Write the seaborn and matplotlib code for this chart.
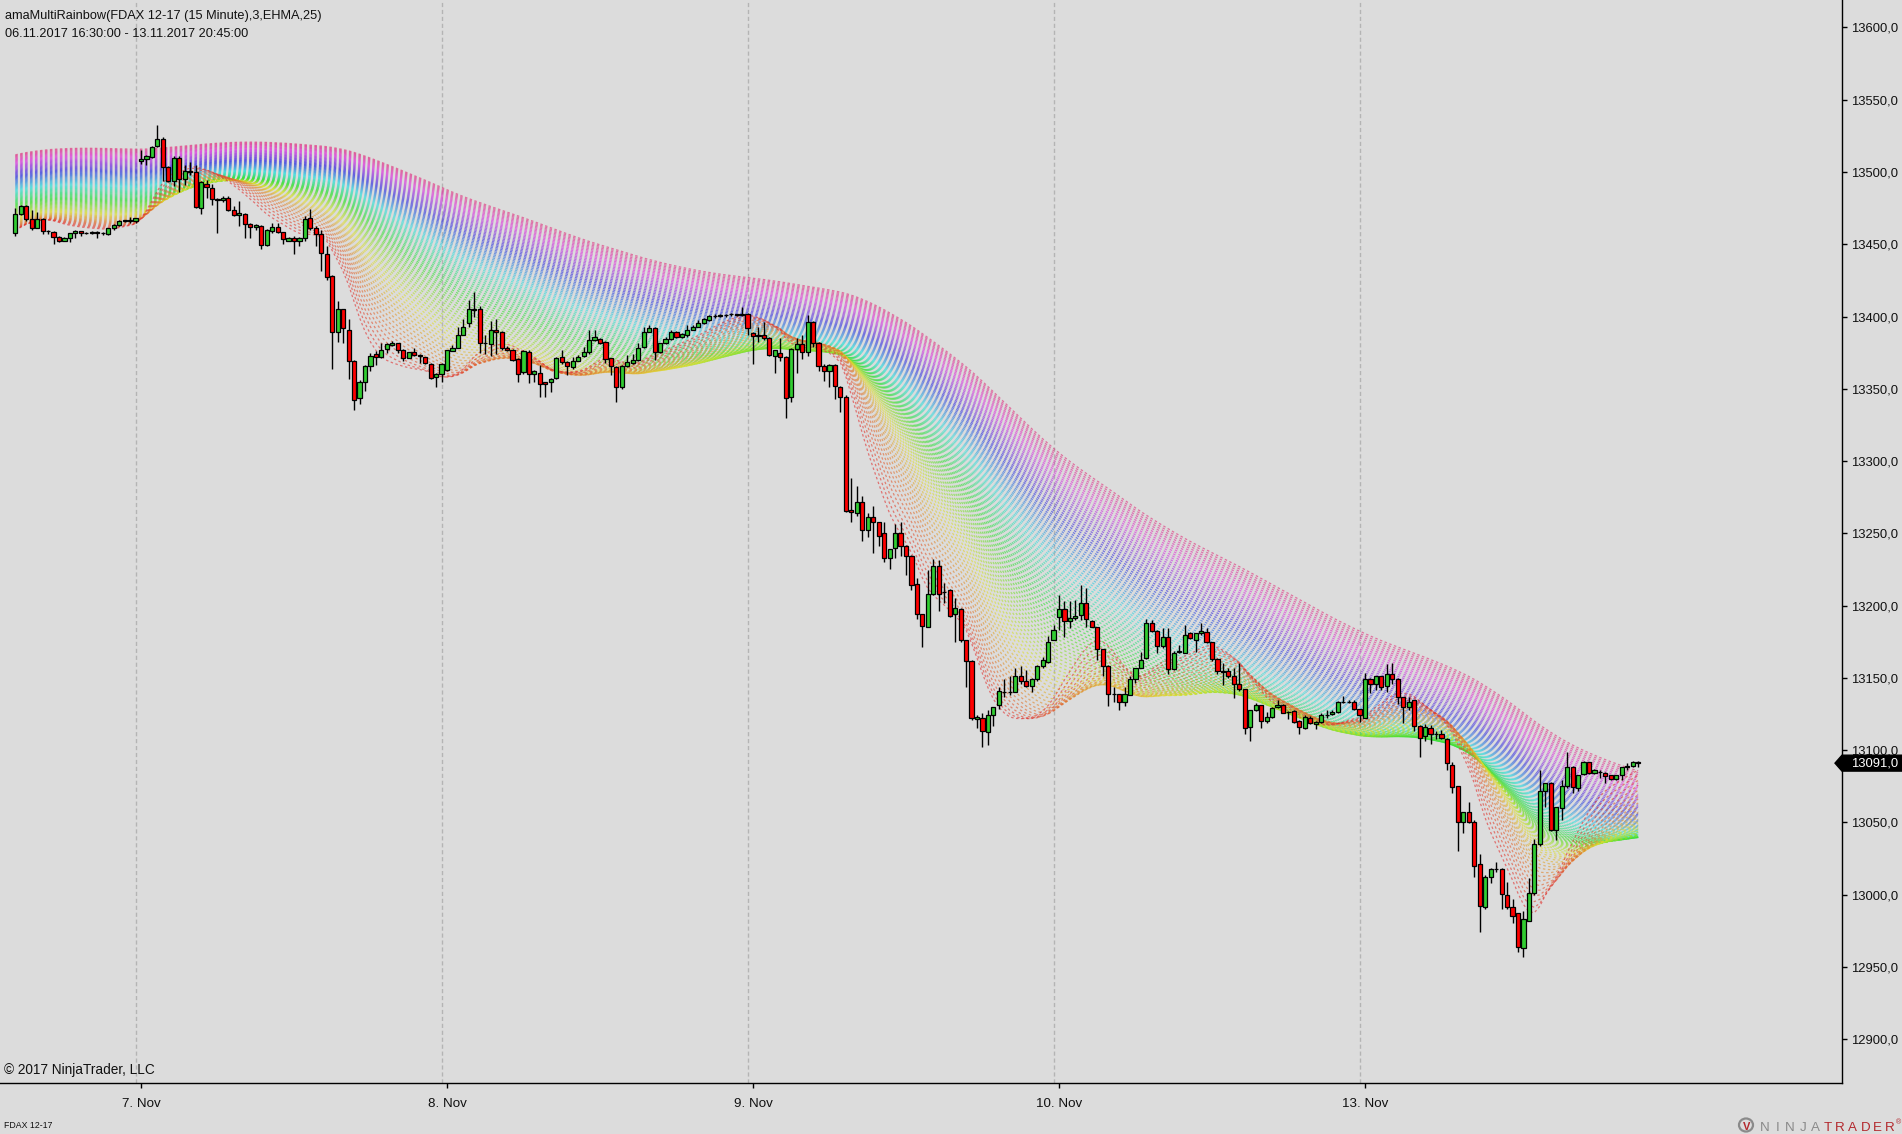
import numpy as np
import pandas as pd
import matplotlib
matplotlib.use("Agg")
import matplotlib.pyplot as plt
from matplotlib.colors import hsv_to_rgb
from matplotlib.patches import Polygon, Ellipse
from matplotlib.ticker import FuncFormatter
from matplotlib.transforms import blended_transform_factory
import seaborn as sns

# ---------------- data ----------------
TITLE = "amaMultiRainbow(FDAX 12-17 (15 Minute),3,EHMA,25)"
SUBTITLE = "06.11.2017 16:30:00 - 13.11.2017 20:45:00"
DAY_LABELS = ["7. Nov", "8. Nov", "9. Nov", "10. Nov", "13. Nov"]
DAY_FIRST_BAR = [23, 79, 135, 191, 247]
Y_TICKS = [12900, 12950, 13000, 13050, 13100, 13150, 13200, 13250,
           13300, 13350, 13400, 13450, 13500, 13550, 13600]

# rainbow indicator settings: EHMA periods 25, 28, 31, ... (step 3)
EHMA_FIRST_PERIOD = 25
EHMA_PERIOD_STEP = 3
EHMA_LINES = 92
BAND_TOP_START = 13511.0      # level of the slowest line at the first bar
PRIOR_TREND = 1.0             # points per bar before the first bar (indicator warm state)

OPEN = [
    13457.5, 13471, 13476.5, 13467.5, 13461, 13467.5, 13459.5, 13458.5, 13455, 13452.5,
    13454.5, 13457.5, 13459, 13457.5, 13458, 13458.5, 13458, 13457, 13461, 13463.5,
    13466, 13466.5, 13466, 13507.5, 13509, 13510.5, 13518, 13523, 13503.5, 13494,
    13510, 13495, 13500.5, 13500, 13475, 13492, 13489, 13481, 13480.5, 13482,
    13473.5, 13470.5, 13471, 13464, 13462, 13462.5, 13449.5, 13459, 13462, 13458.5,
    13452.5, 13454.5, 13452.5, 13454.5, 13468, 13461.5, 13457, 13443, 13428, 13389.5,
    13405, 13391, 13369.5, 13343.5, 13355, 13366, 13374, 13372, 13377.5, 13380.5,
    13381.5, 13377, 13371.5, 13375.5, 13373.5, 13372, 13367.5, 13358, 13360.5, 13363,
    13376, 13378.5, 13387.5, 13395.5, 13405.5, 13405, 13382, 13381, 13391, 13389.5,
    13378.5, 13377, 13370.5, 13361.5, 13375.5, 13360.5, 13361, 13354.5, 13354.5, 13357.5,
    13372, 13368.5, 13365, 13369.5, 13372.5, 13375.5, 13384, 13384.5, 13382.5, 13371,
    13365, 13351, 13366, 13368, 13370, 13379, 13389.5, 13392, 13375.5, 13381.5,
    13384.5, 13389, 13385.5, 13387.5, 13391, 13393, 13395.5, 13397.5, 13400.5, 13400.5,
    13401, 13401.5, 13401.5, 13401, 13402, 13388.5, 13386.5, 13387.5, 13385, 13372.5,
    13375, 13372, 13344, 13377.5, 13381, 13375.5, 13396.5, 13382, 13366, 13362.5,
    13366.5, 13351.5, 13344.5, 13266, 13264, 13271.5, 13252, 13261.5, 13257.5, 13250,
    13233, 13240, 13250.5, 13241.5, 13234.5, 13215, 13194, 13185.5, 13208, 13227.5,
    13209.5, 13211, 13194.5, 13197.5, 13176, 13162, 13121.5, 13122, 13112.5, 13124,
    13131, 13140.5, 13140.5, 13140.5, 13151, 13147.5, 13144.5, 13149, 13158.5, 13161,
    13176, 13192, 13197.5, 13189.5, 13191.5, 13193.5, 13201.5, 13189.5, 13185, 13170,
    13158.5, 13139, 13139, 13133, 13138, 13149.5, 13157, 13163.5, 13188, 13182.5,
    13172, 13178, 13156, 13168, 13167.5, 13181, 13176.5, 13181, 13182, 13174.5,
    13163, 13154.5, 13154.5, 13151, 13145.5, 13142, 13116, 13127.5, 13131, 13120.5,
    13123, 13129.5, 13131.5, 13126.5, 13127, 13120.5, 13115, 13122.5, 13118, 13119.5,
    13124.5, 13125, 13126.5, 13133.5, 13133.5, 13133, 13128.5, 13122.5, 13149.5, 13146,
    13151, 13144.5, 13153, 13149.5, 13136.5, 13130, 13134.5, 13117, 13110, 13115,
    13111, 13111, 13108, 13090, 13075, 13050, 13057, 13050, 13021, 12991.5,
    13012, 13018, 13018, 13000, 12991.5, 12987, 12963, 12982, 13001, 13035,
    13071.5, 13077, 13045, 13060, 13075, 13088.5, 13074, 13083.5, 13091.5, 13084.5,
    13085, 13084.5, 13082.5, 13080, 13082.5, 13088.5, 13089, 13092,
]
HIGH = [
    13475, 13477.5, 13477, 13474, 13472.5, 13468, 13460, 13459, 13455.5, 13455,
    13458, 13460, 13459.5, 13458.5, 13459, 13459, 13458.5, 13461.5, 13464, 13467,
    13467, 13469, 13468.5, 13515.5, 13512, 13518, 13532.5, 13524.5, 13504, 13511,
    13511, 13505, 13507, 13505, 13493.5, 13494.5, 13492, 13482, 13483.5, 13483.5,
    13476.5, 13480, 13471.5, 13464.5, 13464, 13463, 13460.5, 13465, 13465, 13458.5,
    13455, 13455.5, 13455, 13469.5, 13474.5, 13462.5, 13460, 13449, 13428.5, 13411,
    13405.5, 13398, 13370, 13356, 13366.5, 13374.5, 13376, 13382, 13381.5, 13383,
    13382, 13377.5, 13375.5, 13378, 13374, 13372, 13368, 13361, 13368, 13377,
    13380.5, 13393, 13398, 13411.5, 13417, 13407, 13387, 13397, 13398.5, 13390,
    13379.5, 13377.5, 13371, 13377, 13376.5, 13363, 13366.5, 13355, 13357.5, 13372,
    13376.5, 13369, 13372, 13373.5, 13379, 13390.5, 13390.5, 13385, 13383, 13371.5,
    13365.5, 13366.5, 13373.5, 13374, 13381.5, 13393, 13394, 13392.5, 13382, 13386,
    13390.5, 13390, 13388.5, 13394, 13394, 13397.5, 13399, 13401, 13401.5, 13401.5,
    13402, 13402.5, 13402, 13406.5, 13402.5, 13389, 13393, 13396, 13386, 13377,
    13385, 13372.5, 13378, 13385, 13387.5, 13401, 13397, 13382.5, 13367, 13367,
    13367.5, 13352, 13345.5, 13288, 13283, 13275.5, 13264, 13269, 13258, 13258,
    13239.5, 13256.5, 13258, 13242, 13235, 13219, 13194.5, 13224.5, 13232, 13231.5,
    13215.5, 13211.5, 13205, 13198, 13176, 13162.5, 13124, 13126, 13127.5, 13130,
    13143.5, 13149, 13151, 13156.5, 13158, 13155.5, 13150, 13159, 13164.5, 13179,
    13186.5, 13207.5, 13203, 13203, 13204, 13214.5, 13212, 13190, 13185.5, 13170,
    13159, 13144, 13139, 13144, 13151, 13157, 13168, 13191, 13190, 13183,
    13184.5, 13184.5, 13168.5, 13172.5, 13186.5, 13181.5, 13181, 13188, 13184.5, 13175,
    13163.5, 13160, 13156.5, 13156.5, 13160, 13142.5, 13128, 13132.5, 13131, 13126.5,
    13130, 13134.5, 13132, 13127, 13127.5, 13121, 13124, 13123.5, 13120.5, 13126,
    13128, 13128, 13134, 13137.5, 13134.5, 13135, 13128.5, 13153.5, 13150, 13151.5,
    13151.5, 13159.5, 13160, 13150, 13137, 13136.5, 13135, 13117.5, 13118, 13117.5,
    13113.5, 13114, 13108.5, 13092, 13075.5, 13057.5, 13064, 13052, 13028, 13013.5,
    13018.5, 13022.5, 13018.5, 13008.5, 12997, 12987.5, 12988.5, 13011.5, 13038.5, 13086,
    13077.5, 13078, 13061, 13079, 13098.5, 13089, 13083, 13092.5, 13092, 13087,
    13086, 13085, 13083, 13083, 13088.5, 13091, 13092.5, 13092.5,
]
LOW = [
    13456, 13470, 13466, 13460, 13461, 13457, 13457, 13450.5, 13451.5, 13452,
    13451.5, 13454.5, 13456, 13457, 13457, 13454.5, 13456.5, 13456.5, 13460, 13462.5,
    13465.5, 13465, 13465, 13505.5, 13504.5, 13510, 13517, 13493.5, 13493, 13490.5,
    13486, 13491, 13498, 13475, 13471, 13482, 13477, 13457.5, 13479, 13473,
    13469.5, 13462.5, 13454, 13454.5, 13460, 13446.5, 13449, 13458, 13457.5, 13450.5,
    13452, 13443.5, 13448.5, 13452.5, 13460, 13449, 13431.5, 13425.5, 13364, 13382.5,
    13382, 13357, 13335, 13339.5, 13348.5, 13362.5, 13366.5, 13371, 13374.5, 13379.5,
    13375, 13369.5, 13371, 13372.5, 13368, 13367.5, 13356.5, 13351.5, 13354.5, 13362,
    13376, 13378, 13387, 13393, 13400, 13375, 13374, 13372.5, 13374, 13377,
    13376, 13369, 13355, 13360, 13354, 13355, 13344.5, 13344.5, 13348, 13356.5,
    13367, 13359.5, 13364, 13369, 13372, 13374, 13383, 13381, 13368, 13359.5,
    13341, 13350, 13365, 13367, 13369, 13378, 13389, 13370, 13374.5, 13381,
    13383.5, 13385, 13385, 13386, 13390.5, 13392.5, 13394.5, 13397, 13399, 13399.5,
    13400, 13400.5, 13400.5, 13400.5, 13387.5, 13367.5, 13382.5, 13384, 13372.5, 13361,
    13369.5, 13329.5, 13341, 13361, 13370.5, 13372.5, 13379, 13362.5, 13355.5, 13351.5,
    13343, 13334, 13264.5, 13257.5, 13262, 13245, 13247.5, 13236.5, 13241.5, 13230,
    13225, 13233, 13234.5, 13221, 13210.5, 13190.5, 13171.5, 13185, 13207, 13196.5,
    13201.5, 13192, 13174.5, 13174.5, 13144, 13121, 13115, 13102, 13103.5, 13117,
    13128.5, 13136.5, 13138, 13140, 13146, 13143.5, 13140.5, 13148, 13157, 13160,
    13176, 13183, 13178, 13184.5, 13190, 13190, 13185.5, 13185, 13162.5, 13151.5,
    13130.5, 13133, 13128, 13130.5, 13138, 13146.5, 13156.5, 13163, 13182, 13167.5,
    13171, 13153, 13155.5, 13167, 13167, 13177, 13168, 13180, 13174, 13162,
    13153, 13145, 13150, 13136, 13141, 13111.5, 13106, 13127, 13115, 13119,
    13122.5, 13129, 13125.5, 13121.5, 13118.5, 13111.5, 13114.5, 13118, 13114.5, 13119,
    13122.5, 13124.5, 13126, 13132.5, 13132.5, 13128, 13119.5, 13122, 13139.5, 13141.5,
    13141.5, 13140, 13145.5, 13132, 13118.5, 13127.5, 13113, 13095, 13106, 13104.5,
    13108, 13108, 13086, 13070.5, 13030, 13043, 13049.5, 13012, 12974.5, 12990,
    13008, 13016, 12990, 12990, 12980.5, 12960, 12957, 12981.5, 13000, 13034,
    13061, 13044, 13038, 13051.5, 13074, 13070, 13071.5, 13082.5, 13083.5, 13083.5,
    13081, 13077.5, 13079.5, 13079.5, 13079.5, 13086, 13088.5, 13088.5,
]
CLOSE = [
    13471, 13476.5, 13467.5, 13461, 13467.5, 13459.5, 13459, 13455, 13452.5, 13454.5,
    13457.5, 13459, 13457.5, 13458, 13458.5, 13458, 13457.5, 13461, 13463.5, 13466,
    13466.5, 13466, 13468, 13509, 13511, 13517.5, 13523, 13503.5, 13494, 13510,
    13495, 13500.5, 13500, 13476, 13493, 13489.5, 13481, 13480.5, 13482, 13474,
    13470.5, 13471.5, 13464, 13462, 13463.5, 13449.5, 13460, 13462, 13458.5, 13453.5,
    13454.5, 13452.5, 13454, 13467.5, 13461, 13457, 13444, 13427.5, 13389.5, 13405,
    13392, 13369.5, 13342.5, 13355, 13366, 13373, 13372, 13377, 13381, 13381.5,
    13376.5, 13371.5, 13375.5, 13373.5, 13373, 13368, 13357.5, 13360, 13367.5, 13376.5,
    13378, 13387.5, 13393, 13405.5, 13404.5, 13382, 13382, 13390.5, 13389.5, 13378.5,
    13377, 13370, 13360.5, 13376, 13360.5, 13362.5, 13353, 13353.5, 13357, 13371,
    13368.5, 13366, 13369.5, 13372, 13375.5, 13384, 13385.5, 13382, 13370.5, 13366,
    13351.5, 13366, 13368.5, 13370, 13378.5, 13389.5, 13392, 13375.5, 13381.5, 13384.5,
    13389.5, 13386, 13388, 13391, 13393, 13395.5, 13398, 13400.5, 13400.5, 13401,
    13401, 13401.5, 13401, 13402, 13392, 13386.5, 13387.5, 13385, 13373.5, 13376.5,
    13372, 13343.5, 13377.5, 13381, 13375.5, 13396.5, 13382, 13366, 13362.5, 13366.5,
    13352, 13344.5, 13265.5, 13264.5, 13272, 13252, 13261.5, 13258, 13248.5, 13233,
    13239, 13250.5, 13241.5, 13234.5, 13214, 13194.5, 13186, 13208, 13227.5, 13208,
    13209.5, 13193, 13198, 13176, 13162, 13122, 13123, 13113, 13124, 13129.5,
    13141, 13140.5, 13140.5, 13151, 13147.5, 13144.5, 13149, 13158.5, 13162.5, 13175,
    13183, 13197.5, 13189.5, 13191.5, 13193, 13201.5, 13190.5, 13185.5, 13170, 13158,
    13139, 13138.5, 13133, 13139, 13149.5, 13156.5, 13162.5, 13188, 13182.5, 13172,
    13178, 13156, 13167, 13168.5, 13180, 13177.5, 13181, 13182.5, 13174.5, 13163,
    13154.5, 13154, 13151, 13145.5, 13142, 13115, 13127.5, 13131, 13120.5, 13123,
    13129, 13131.5, 13126, 13126.5, 13119.5, 13116, 13123, 13118.5, 13119.5, 13124,
    13124.5, 13126.5, 13133, 13133.5, 13133.5, 13128.5, 13124, 13149, 13146, 13151,
    13143.5, 13153, 13149.5, 13137, 13129.5, 13133, 13116.5, 13108.5, 13116, 13111.5,
    13111, 13108.5, 13091, 13074.5, 13050, 13057, 13050, 13020, 12992.5, 13012,
    13018, 13017.5, 13000.5, 12991.5, 12985.5, 12963.5, 12983, 13001, 13035, 13071.5,
    13077, 13045, 13060.5, 13075, 13088, 13074.5, 13082.5, 13091.5, 13084.5, 13086,
    13085, 13082, 13080, 13082.5, 13088, 13089, 13092, 13091,
]

# ---------------- figure geometry ----------------
W, H = 1902, 1134
BG = "#dcdcdc"
sns.set_theme(style="white", rc={"axes.facecolor": BG, "figure.facecolor": BG})
plt.rcParams["font.family"] = ["Liberation Sans", "DejaVu Sans"]

fig = plt.figure(figsize=(W / 100, H / 100), dpi=100)
ax = fig.add_axes([0, 51 / H, 1842 / W, 1083 / H])
ax.set_facecolor(BG)

o = np.array(OPEN, float)
h = np.array(HIGH, float)
l = np.array(LOW, float)
c = np.array(CLOSE, float)
x = np.arange(len(c))


def ehma(values, n, start_level, trend):
    """Exponential Hull MA: EMA(2*EMA(n/2) - EMA(n), sqrt(n)), started in a trending state."""
    ah = 2 / (n / 2 + 1)
    af = 2 / (n + 1)
    m = max(2.0, np.sqrt(n))
    asm = 2 / (m + 1)
    lag_h, lag_f, lag_s = (n / 2 - 1) / 2, (n - 1) / 2, (m - 1) / 2
    p0 = start_level + trend * (2 * lag_h - lag_f + lag_s)
    eh = p0 - trend * lag_h
    ef = p0 - trend * lag_f
    f = start_level
    out = []
    for v in values:
        eh += ah * (v - eh)
        ef += af * (v - ef)
        f += asm * ((2 * eh - ef) - f)
        out.append(f)
    return out


# ---------------- rainbow ----------------
periods = [EHMA_FIRST_PERIOD + EHMA_PERIOD_STEP * k for k in range(EHMA_LINES)]
frames = []
for k, p in enumerate(periods):
    start = OPEN[0] + (BAND_TOP_START - OPEN[0]) * k / (EHMA_LINES - 1)
    vals = ehma(c, p, start, PRIOR_TREND)
    frames.append(pd.DataFrame({"bar": x, "value": vals, "line": f"EHMA{p}"}))
rain = pd.concat(frames, ignore_index=True)
order = [f"EHMA{p}" for p in periods]
palette = [tuple(hsv_to_rgb((0.93 * k / (EHMA_LINES - 1), 0.78, 0.88)))
           for k in range(EHMA_LINES)]
sns.lineplot(data=rain, x="bar", y="value", hue="line", hue_order=order[::-1],
             palette=palette[::-1], legend=False, estimator=None, errorbar=None,
             sort=False, linewidth=0.9, linestyle=(0, (2, 2)), alpha=0.62,
             ax=ax, zorder=2)

# ---------------- session separators ----------------
for fb in DAY_FIRST_BAR:
    ax.axvline(fb - 1, color="#b4b4b4", lw=1.0, linestyle=(0, (3, 2)), zorder=1)

# ---------------- candles ----------------
ax.vlines(x, l, h, color="black", linewidth=1.0, zorder=3)
colors = ["#32cd32" if cc >= oo else "#ff0000" for oo, cc in zip(o, c)]
ax.bar(x, np.abs(c - o), bottom=np.minimum(o, c), width=0.76, color=colors,
       edgecolor="black", linewidth=0.9, zorder=4)

# ---------------- axes ----------------
ax.set_xlim(-2.8, 334.3)
ax.set_ylim(12869.7, 13619.0)
ax.set_xlabel("")
ax.set_ylabel("")
for side in ["top", "left"]:
    ax.spines[side].set_visible(False)
for side in ["bottom", "right"]:
    ax.spines[side].set_color("black")
    ax.spines[side].set_linewidth(1.0)
ax.yaxis.tick_right()
ax.set_yticks(Y_TICKS)
ax.yaxis.set_major_formatter(FuncFormatter(lambda v, pos: f"{v:.1f}".replace(".", ",")))
ax.set_xticks(DAY_FIRST_BAR)
ax.set_xticklabels(DAY_LABELS)
ax.tick_params(axis="y", which="major", direction="out", length=3.6, width=1,
               color="black", labelsize=9.4, labelcolor="#111111", pad=2.9,
               left=False, right=True)
ax.tick_params(axis="x", which="major", direction="out", length=3.6, width=1,
               color="black", labelsize=9.6, labelcolor="#111111", pad=7.0,
               bottom=True)
ax.grid(False)

# current price tag
last = CLOSE[-1]
tr = blended_transform_factory(ax.transAxes, ax.transData)
hh = 5.5
tag = Polygon([(0.9962, last), (1.0, last + hh), (1.0326, last + hh),
               (1.0326, last - hh), (1.0, last - hh)], closed=True,
              facecolor="black", edgecolor="black", transform=tr,
              clip_on=False, zorder=10)
ax.add_patch(tag)
ax.text(1.0049, last, f"{last:.1f}".replace(".", ","), transform=tr, color="white",
        fontsize=9.4, va="center", ha="left", zorder=11, clip_on=False)

# ---------------- texts ----------------
fig.text(5 / W, 1 - 19 / H, TITLE, fontsize=9.2, color="#111111", va="baseline", ha="left")
fig.text(5 / W, 1 - 37 / H, SUBTITLE, fontsize=9.2, color="#111111", va="baseline", ha="left")
fig.text(4 / W, 1 - 1074 / H, "\u00a9 2017 NinjaTrader, LLC", fontsize=9.8,
         color="#111111", va="baseline", ha="left")
fig.text(4 / W, 1 - 1128 / H, "FDAX 12-17", fontsize=6.3, color="#111111",
         va="baseline", ha="left")

# NinjaTrader logo
logo = "NINJATRADER"
for i, ch in enumerate(logo):
    col = "#8a8a8a" if i < 5 else "#b3282d"
    fig.text((1765.2 + 12.5 * i) / W, 1 - 1131 / H, ch, fontsize=9.6, color=col,
             va="baseline", ha="center")
fig.text(1898 / W, 1 - 1124 / H, "\u00ae", fontsize=5, color="#b3282d",
         va="baseline", ha="center")
fig.patches.append(Ellipse((1746 / W, 1 - 1125 / H), 14 / W, 13 / H,
                           transform=fig.transFigure, facecolor="none",
                           edgecolor="#8a8a8a", linewidth=1.6))
fig.text(1747 / W, 1 - 1130 / H, "V", fontsize=8, color="#b3282d",
         va="baseline", ha="center", fontweight="bold")

fig.savefig("out.png", dpi=100, facecolor=BG)
